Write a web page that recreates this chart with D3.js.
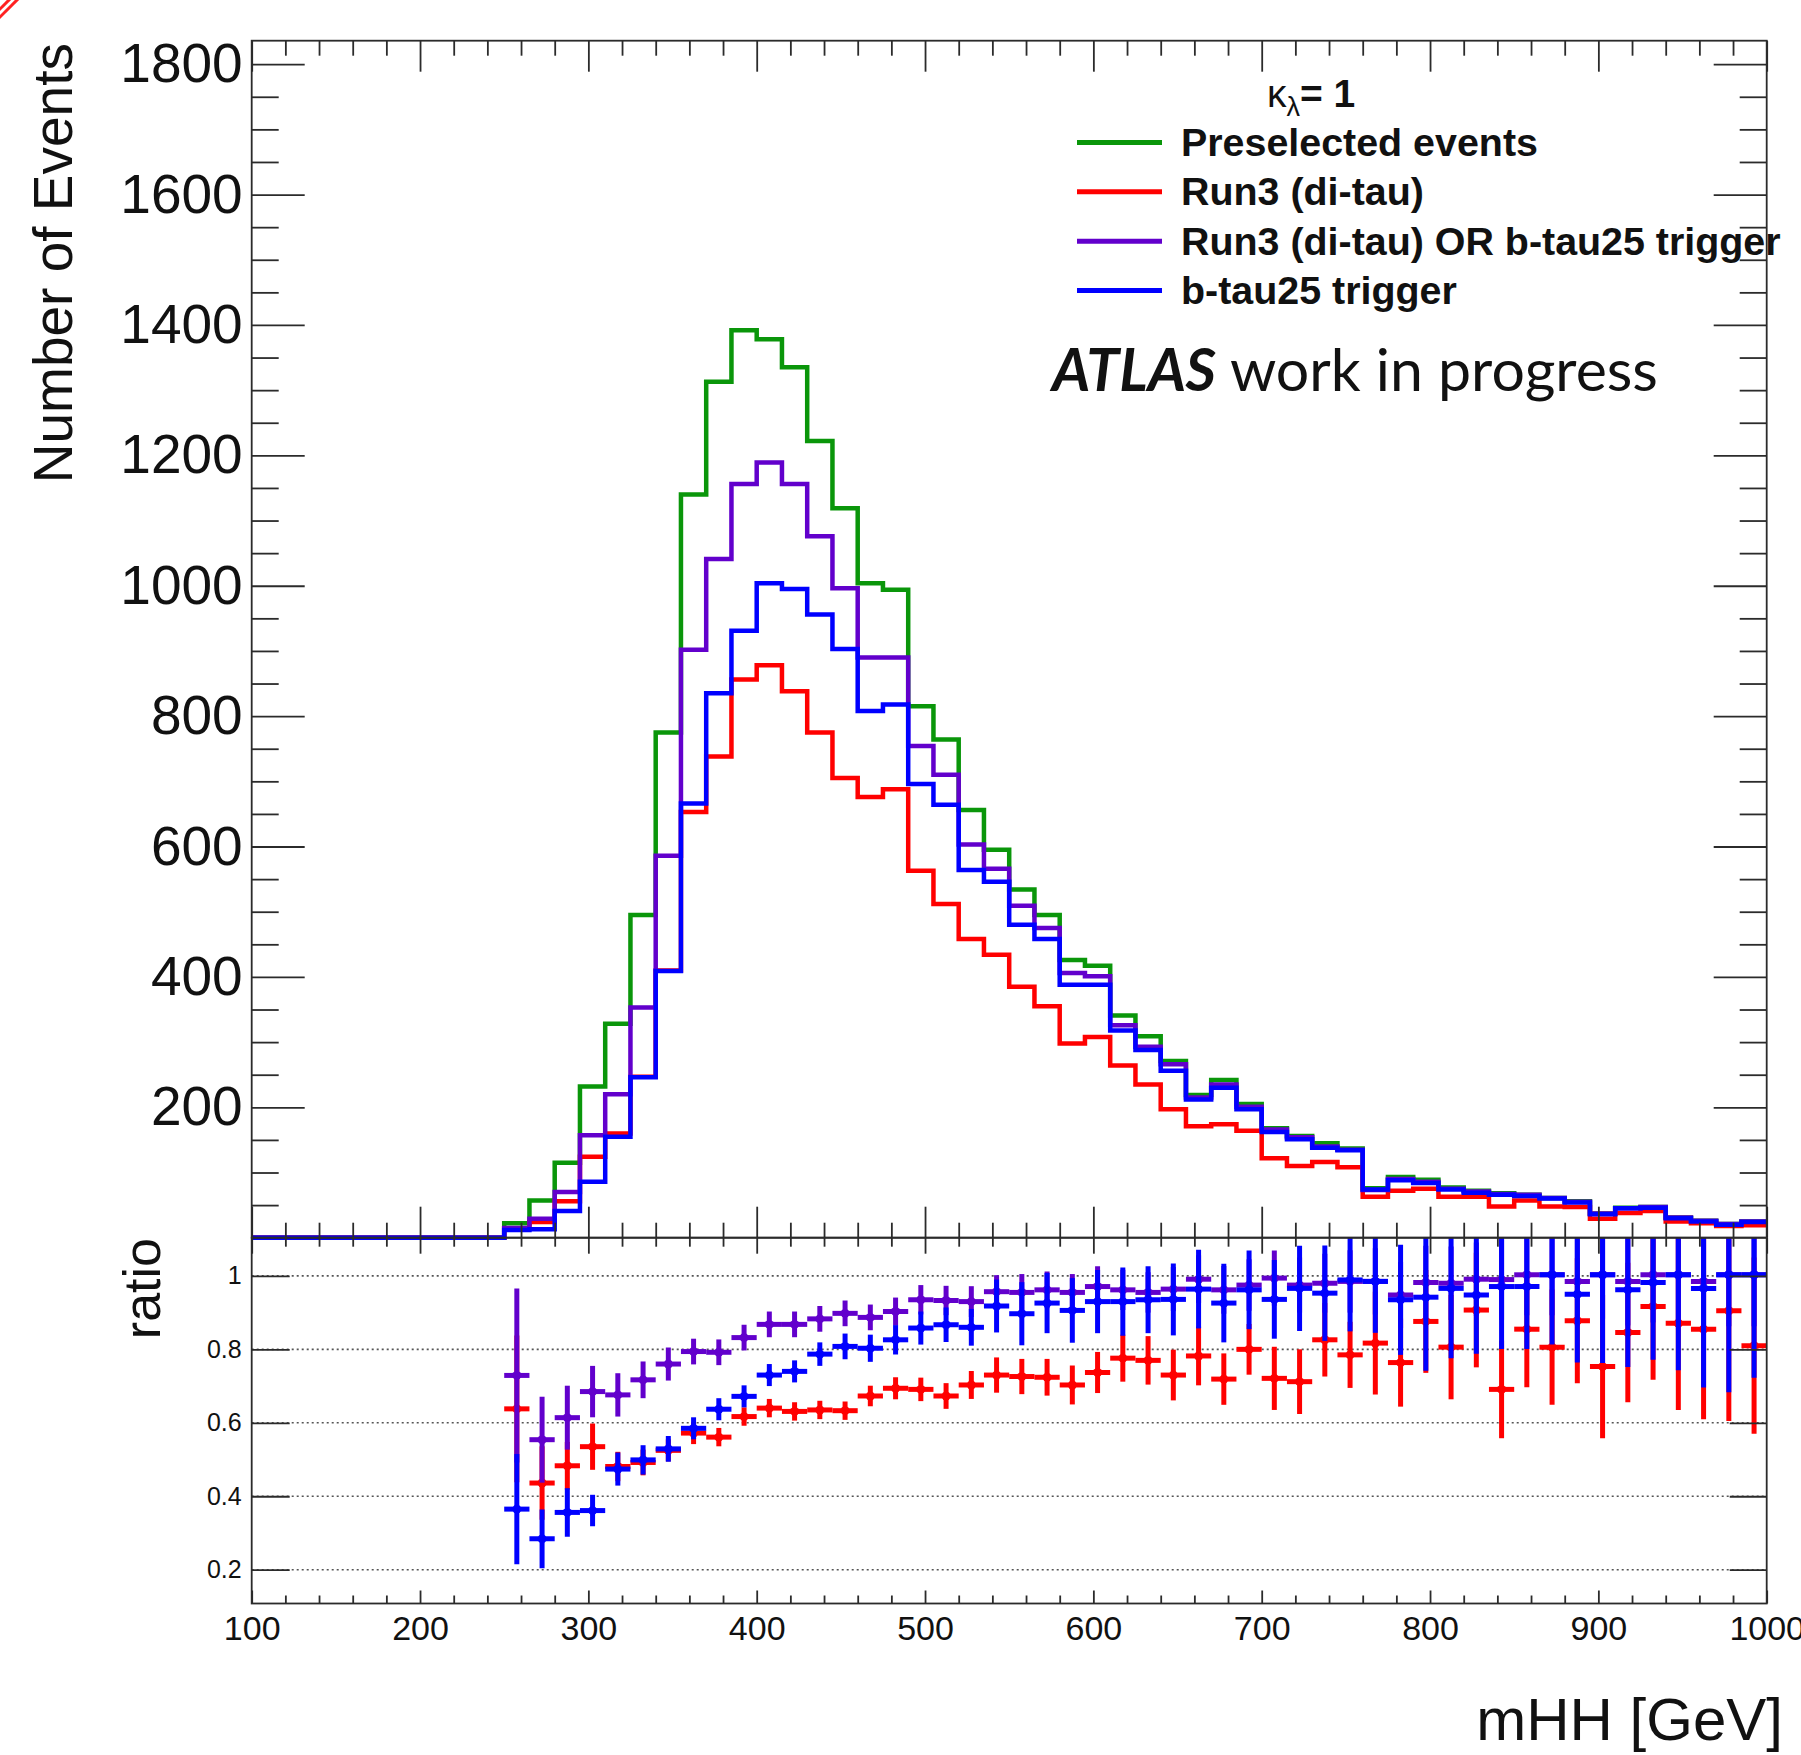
<!DOCTYPE html>
<html>
<head>
<meta charset="UTF-8">
<title>mHH</title>
<style>
  body { margin: 0; background: #fff; }
  svg text { font-family: "Liberation Sans", Arial, sans-serif; fill: #111; }
</style>
</head>
<body>
<div id="chart"></div>
<script src="https://cdn.jsdelivr.net/npm/d3@7"></script>
<script>
// 15 GeV bins from 100 to 1000 GeV (lower edges)
const binLow = d3.range(100, 1000, 15);

// histogram contents, one value per bin
const preselected = [0,0,0,0,0,0,0,0,0,0,
  22,57,115,232,328,495,775,1140,1313,1392,
  1378,1335,1222,1119,1004,994,815,764,656,595,
  534,495,426,417,341,309,271,219,242,205,
  168,156,145,137,76,93,89,77,72,68,
  66,61,56,37,46,47,31,26,21,25];
const run3 = [0,0,0,0,0,0,0,0,0,0,
  14,24,56,124,160,247,410,653,738,856,
  878,838,775,705,676,688,563,512,458,434,
  385,355,298,308,264,235,197,171,174,164,
  122,110,116,108,63,72,75,63,63,48,
  57,48,47,29,38,41,25,22,18,19];
const run3OrBtau = [0,0,0,0,0,0,0,0,0,0,
  15,29,70,157,220,353,586,902,1041,1156,
  1189,1156,1076,996,890,890,754,710,603,566,
  509,475,406,401,326,293,266,215,235,201,
  166,154,140,135,73,90,86,75,71,67,
  66,61,55,37,45,47,31,26,21,25];
const btau25 = [0,0,0,0,0,0,0,0,0,0,
  12,13,41,86,155,246,409,666,835,931,
  1004,995,956,903,808,818,696,664,564,546,
  480,458,388,388,318,288,256,212,230,197,
  162,151,138,134,74,88,84,74,69,66,
  64,60,54,36,45,46,30,25,20,24];

// ratio points start at the 250-265 bin
const ratioFirstBin = 10;
const ratioRun3 = [0.638,0.436,0.483,0.535,0.481,0.492,0.525,0.572,0.561,0.617,
  0.640,0.631,0.635,0.633,0.673,0.694,0.691,0.673,0.703,0.730,
  0.726,0.724,0.703,0.737,0.776,0.770,0.730,0.782,0.719,0.800,
  0.721,0.712,0.826,0.785,0.817,0.764,0.876,0.806,0.907,0.691,
  0.855,0.806,0.878,0.753,0.846,0.917,0.871,0.855,0.905,0.810];
const errRun3 = [0.20,0.10,0.065,0.063,0.04,0.035,0.03,0.03,0.025,0.025,
  0.025,0.025,0.025,0.025,0.028,0.03,0.032,0.035,0.038,0.048,
  0.048,0.05,0.053,0.056,0.064,0.066,0.069,0.08,0.07,0.069,
  0.086,0.088,0.10,0.09,0.14,0.12,0.14,0.142,0.156,0.133,
  0.158,0.157,0.17,0.195,0.19,0.20,0.236,0.245,0.30,0.24];
const ratioOr = [0.729,0.554,0.614,0.685,0.676,0.717,0.760,0.794,0.792,0.832,
  0.868,0.868,0.883,0.898,0.887,0.903,0.935,0.933,0.930,0.957,
  0.955,0.962,0.955,0.971,0.962,0.955,0.964,0.991,0.962,0.975,
  0.994,0.975,0.980,0.985,0.985,0.948,0.982,0.980,0.991,0.990,
  1.003,1.003,0.985,1.003,0.985,1.003,1.003,0.985,1.003,1.003];
const errOr = [0.237,0.117,0.087,0.07,0.059,0.05,0.045,0.035,0.035,0.035,
  0.035,0.035,0.035,0.035,0.035,0.038,0.04,0.04,0.042,0.045,
  0.05,0.05,0.05,0.055,0.055,0.055,0.06,0.065,0.065,0.07,
  0.075,0.075,0.08,0.085,0.09,0.09,0.10,0.10,0.10,0.11,
  0.11,0.11,0.12,0.12,0.12,0.13,0.13,0.14,0.14,0.14];
const ratioBtau = [0.365,0.284,0.356,0.361,0.474,0.499,0.529,0.585,0.637,0.672,
  0.730,0.740,0.787,0.808,0.803,0.826,0.858,0.867,0.860,0.918,
  0.897,0.926,0.906,0.930,0.930,0.935,0.936,0.964,0.926,0.962,
  0.936,0.966,0.953,0.989,0.985,0.935,0.942,0.966,0.948,0.971,
  0.971,1.003,0.950,1.003,0.962,0.982,1.003,0.966,1.003,1.003];
const errBtau = [0.15,0.08,0.066,0.043,0.045,0.04,0.035,0.03,0.03,0.03,
  0.03,0.03,0.032,0.035,0.037,0.04,0.045,0.047,0.05,0.072,
  0.086,0.082,0.088,0.086,0.093,0.091,0.098,0.107,0.107,0.107,
  0.107,0.116,0.13,0.14,0.14,0.15,0.20,0.19,0.16,0.17,
  0.17,0.19,0.186,0.24,0.21,0.21,0.26,0.27,0.32,0.28];

const legendLabels = ["Preselected events", "Run3 (di-tau)", "Run3 (di-tau) OR b-tau25 trigger", "b-tau25 trigger"];
const colors = ["#0a960a", "#ff0000", "#6200cc", "#0000ff"];
const yTicks = [200, 400, 600, 800, 1000, 1200, 1400, 1600, 1800];
const xTicks = [100, 200, 300, 400, 500, 600, 700, 800, 900, 1000];
const ratioTicks = [0.2, 0.4, 0.6, 0.8, 1];
const ratioTickLabels = ["0.2", "0.4", "0.6", "0.8", "1"];

const W = 1801, H = 1755;
const padL = 251.7, padR = 1766.7, padT = 40.7, padMid = 1237.7, padB = 1603.5;
const ink = "#2b2b2b";

const svg = d3.select("#chart").append("svg")
  .attr("width", W).attr("height", H)
  .style("background", "#fff");

const x = d3.scaleLinear().domain([100, 1000]).range([padL, padR]);
const y = d3.scaleLinear().domain([0, 1836]).range([padMid, padT]);
const yr = d3.scaleLinear().domain([0.108, 1.104]).range([padB, padMid]);

// slide decoration in the corner
svg.append("line").attr("x1", -2).attr("y1", 19).attr("x2", 20).attr("y2", -3)
  .attr("stroke", "#f22").attr("stroke-width", 3);
svg.append("line").attr("x1", -2).attr("y1", 11).attr("x2", 12).attr("y2", -3)
  .attr("stroke", "#f22").attr("stroke-width", 3);

// ---- ratio grid lines
svg.append("g").selectAll("line").data(ratioTicks).join("line")
  .attr("x1", padL).attr("x2", padR)
  .attr("y1", d => yr(d)).attr("y2", d => yr(d))
  .attr("stroke", "#555").attr("stroke-width", 1.6)
  .attr("stroke-dasharray", "2,3");

// ---- histograms
const stepLine = d3.line().x(d => x(d[0])).y(d => y(d[1])).curve(d3.curveStepAfter);
const series = [preselected, run3, run3OrBtau, btau25];
series.forEach((vals, i) => {
  const pts = binLow.map((b, k) => [b, vals[k]]);
  pts.push([1000, vals[vals.length - 1]]);
  svg.append("path").datum(pts)
    .attr("d", stepLine)
    .attr("fill", "none")
    .attr("stroke", colors[i])
    .attr("stroke-width", 4.5)
    .attr("stroke-linejoin", "miter");
});

// ---- ratio points
svg.append("clipPath").attr("id", "rclip").append("rect")
  .attr("x", padL).attr("y", padMid).attr("width", padR - padL).attr("height", padB - padMid);
const ratioSets = [
  [ratioRun3, errRun3, colors[1]],
  [ratioOr, errOr, colors[2]],
  [ratioBtau, errBtau, colors[3]]
];
ratioSets.forEach(([vals, errs, col]) => {
  const g = svg.append("g").attr("clip-path", "url(#rclip)");
  const pts = vals.map((v, k) => ({ lo: binLow[k + ratioFirstBin], v: v, e: errs[k] }));
  g.selectAll(".h").data(pts).join("line").attr("class", "h")
    .attr("x1", d => x(d.lo)).attr("x2", d => x(d.lo + 15))
    .attr("y1", d => yr(d.v)).attr("y2", d => yr(d.v))
    .attr("stroke", col).attr("stroke-width", 5);
  g.selectAll(".v").data(pts).join("line").attr("class", "v")
    .attr("x1", d => x(d.lo + 7.5)).attr("x2", d => x(d.lo + 7.5))
    .attr("y1", d => yr(d.v - d.e)).attr("y2", d => yr(d.v + d.e))
    .attr("stroke", col).attr("stroke-width", 5);
  g.selectAll("circle").data(pts).join("circle")
    .attr("cx", d => x(d.lo + 7.5)).attr("cy", d => yr(d.v))
    .attr("r", 4.5).attr("fill", col);
});

// ---- axes
function styleAxis(g) {
  g.select(".domain").remove();
  g.selectAll(".tick line").attr("stroke", ink).attr("stroke-width", 1.8);
  g.selectAll("text").attr("fill", "#111").attr("font-family", '"Liberation Sans", Arial, sans-serif');
}
const minorX = d3.range(100, 1001, 20).filter(v => v % 100 !== 0);
const minorY = d3.range(0, 1836, 50).filter(v => v % 200 !== 0);

// main panel
svg.append("g").attr("transform", `translate(${padL},0)`)
  .call(d3.axisLeft(y).tickValues(yTicks).tickSize(-53).tickPadding(9).tickFormat(d3.format("d")))
  .call(styleAxis).call(g => g.selectAll("text").attr("font-size", 55));
svg.append("g").attr("transform", `translate(${padL},0)`)
  .call(d3.axisLeft(y).tickValues(minorY).tickSize(-27).tickFormat(""))
  .call(styleAxis);
svg.append("g").attr("transform", `translate(${padR},0)`)
  .call(d3.axisRight(y).tickValues(yTicks).tickSize(-53).tickFormat(""))
  .call(styleAxis);
svg.append("g").attr("transform", `translate(${padR},0)`)
  .call(d3.axisRight(y).tickValues(minorY).tickSize(-27).tickFormat(""))
  .call(styleAxis);
svg.append("g").attr("transform", `translate(0,${padT})`)
  .call(d3.axisTop(x).tickValues(xTicks).tickSize(-31).tickFormat(""))
  .call(styleAxis);
svg.append("g").attr("transform", `translate(0,${padT})`)
  .call(d3.axisTop(x).tickValues(minorX).tickSize(-15).tickFormat(""))
  .call(styleAxis);
svg.append("g").attr("transform", `translate(0,${padMid})`)
  .call(d3.axisBottom(x).tickValues(xTicks).tickSize(-31).tickFormat(""))
  .call(styleAxis);
svg.append("g").attr("transform", `translate(0,${padMid})`)
  .call(d3.axisBottom(x).tickValues(minorX).tickSize(-15).tickFormat(""))
  .call(styleAxis);

// ratio panel
svg.append("g").attr("transform", `translate(0,${padMid})`)
  .call(d3.axisTop(x).tickValues(xTicks).tickSize(-16).tickFormat(""))
  .call(styleAxis);
svg.append("g").attr("transform", `translate(0,${padMid})`)
  .call(d3.axisTop(x).tickValues(minorX).tickSize(-9).tickFormat(""))
  .call(styleAxis);
svg.append("g").attr("transform", `translate(0,${padB})`)
  .call(d3.axisBottom(x).tickValues(xTicks).tickSize(-13).tickPadding(12).tickFormat(d3.format("d")))
  .call(styleAxis).call(g => g.selectAll("text").attr("font-size", 34));
svg.append("g").attr("transform", `translate(0,${padB})`)
  .call(d3.axisBottom(x).tickValues(minorX).tickSize(-8).tickFormat(""))
  .call(styleAxis);
svg.append("g").attr("transform", `translate(${padL},0)`)
  .call(d3.axisLeft(yr).tickValues(ratioTicks).tickSize(-38).tickPadding(10)
    .tickFormat((d, i) => ratioTickLabels[i]))
  .call(styleAxis).call(g => g.selectAll("text").attr("font-size", 25));
svg.append("g").attr("transform", `translate(${padR},0)`)
  .call(d3.axisRight(yr).tickValues(ratioTicks).tickSize(-37).tickFormat(""))
  .call(styleAxis);

// frames
svg.append("rect").attr("x", padL).attr("y", padT).attr("width", padR - padL).attr("height", padMid - padT)
  .attr("fill", "none").attr("stroke", ink).attr("stroke-width", 1.8);
svg.append("rect").attr("x", padL).attr("y", padMid).attr("width", padR - padL).attr("height", padB - padMid)
  .attr("fill", "none").attr("stroke", ink).attr("stroke-width", 1.8);

// axis titles
svg.append("text").attr("transform", "translate(72,43) rotate(-90)")
  .attr("text-anchor", "end").attr("font-size", 55).text("Number of Events");
svg.append("text").attr("transform", "translate(160,1238) rotate(-90)")
  .attr("text-anchor", "end").attr("font-size", 52).text("ratio");
svg.append("text").attr("x", 1783).attr("y", 1740)
  .attr("text-anchor", "end").attr("font-size", 60).text("mHH [GeV]");

// legend
const header = svg.append("text").attr("x", 1267).attr("y", 107).attr("font-size", 39);
header.append("tspan").text("κ");
header.append("tspan").attr("font-size", 27).attr("dy", 9).text("λ");
header.append("tspan").attr("dy", -9).attr("font-weight", "bold").text("= 1");

const leg = svg.append("g").selectAll("g").data(legendLabels).join("g")
  .attr("transform", (d, i) => `translate(0,${142.4 + i * 49.4})`);
leg.append("line").attr("x1", 1077).attr("x2", 1162).attr("y1", 0).attr("y2", 0)
  .attr("stroke", (d, i) => colors[i]).attr("stroke-width", 5);
leg.append("text").attr("x", 1181).attr("y", 13.5)
  .attr("font-size", 39.4).attr("font-weight", "bold").text(d => d);

// experiment label
const atlas = svg.append("text").attr("x", 1052).attr("y", 391)
  .style("font-family", "Lato, 'Open Sans', sans-serif").attr("font-size", 59);
atlas.append("tspan").attr("font-weight", "bold").attr("font-style", "italic").text("ATLAS");
atlas.append("tspan").text(" work in progress");
</script>
</body>
</html>
